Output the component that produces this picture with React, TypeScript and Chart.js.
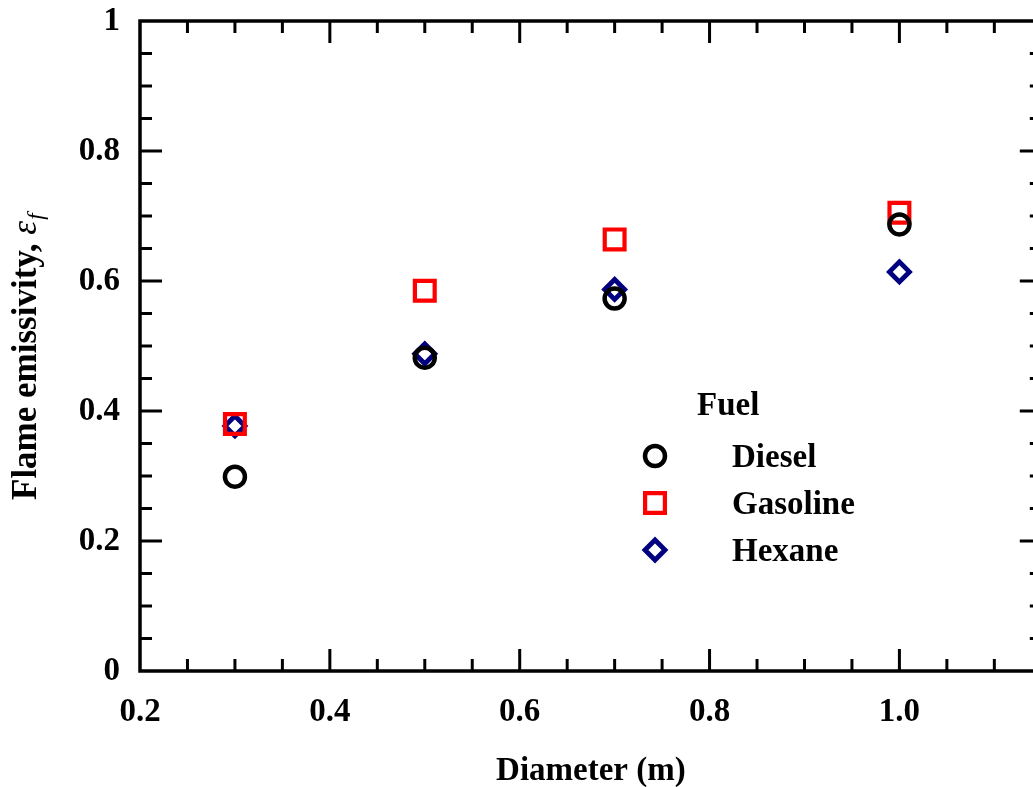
import React, { useEffect, useRef } from 'react';
import { Chart, registerables } from 'chart.js';

Chart.register(...registerables);

// ---- data ----
const diameters = [0.3, 0.5, 0.7, 1.0];
const diesel = [0.299, 0.482, 0.573, 0.687];
const gasoline = [0.38, 0.585, 0.664, 0.705];
const hexane = [0.377, 0.488, 0.587, 0.614];
const seriesNames = ['Diesel', 'Gasoline', 'Hexane'];
const legendTitle = 'Fuel';

const xMajorTicks = [0.2, 0.4, 0.6, 0.8, 1.0];
const xTickLabels = ['0.2', '0.4', '0.6', '0.8', '1.0'];
const yMajorTicks = [0, 0.2, 0.4, 0.6, 0.8, 1];
const yTickLabels = ['0', '0.2', '0.4', '0.6', '0.8', '1'];
const xTitle = 'Diameter (m)';
const yTitleMain = 'Flame emissivity, ';
const yTitleSymbol = 'ε';
const yTitleSub = 'f';

const X_MIN = 0.2;
const X_MAX = 1.15;
const Y_MIN = 0;
const Y_MAX = 1;
const MINOR_STEP = 0.05;
const MAJOR_STEP = 0.2;

const FONT = '"Liberation Serif", "Times New Roman", Times, serif';
const colors = ['#000000', '#ff0000', '#000080'];
const styles = ['circle', 'rect', 'rectRot'];
const radii = [10, 14, 10];
const borderWidths = [4.5, 4.2, 4.8];

function drawMarker(ctx: CanvasRenderingContext2D, style: string, x: number, y: number, r: number, color: string, bw: number) {
  ctx.save();
  ctx.strokeStyle = color;
  ctx.lineWidth = bw;
  ctx.beginPath();
  if (style === 'circle') {
    ctx.arc(x, y, r, 0, Math.PI * 2);
  } else if (style === 'rect') {
    const s = Math.SQRT1_2 * r;
    ctx.rect(x - s, y - s, 2 * s, 2 * s);
  } else {
    ctx.moveTo(x - r, y);
    ctx.lineTo(x, y - r);
    ctx.lineTo(x + r, y);
    ctx.lineTo(x, y + r);
    ctx.closePath();
  }
  ctx.stroke();
  ctx.restore();
}

const framePlugin = {
  id: 'frameTicks',
  beforeDatasetsDraw(chart: any) {
    const { ctx, chartArea: a, scales } = chart;
    const xs = scales.x;
    const ys = scales.y;
    ctx.save();
    ctx.strokeStyle = '#000';
    ctx.lineWidth = 3;
    const line = (x1: number, y1: number, x2: number, y2: number) => {
      ctx.beginPath();
      ctx.moveTo(x1, y1);
      ctx.lineTo(x2, y2);
      ctx.stroke();
    };
    const isMajor = (v: number) => Math.abs(v / MAJOR_STEP - Math.round(v / MAJOR_STEP)) < 1e-6;
    const nx = Math.round((X_MAX - X_MIN) / MINOR_STEP);
    for (let i = 1; i < nx; i++) {
      const v = X_MIN + i * MINOR_STEP;
      const px = xs.getPixelForValue(v);
      const len = isMajor(v) ? 22 : 12;
      line(px, a.bottom, px, a.bottom - len);
      line(px, a.top, px, a.top + len);
    }
    const ny = Math.round((Y_MAX - Y_MIN) / MINOR_STEP);
    for (let i = 1; i < ny; i++) {
      const v = Y_MIN + i * MINOR_STEP;
      const py = ys.getPixelForValue(v);
      const len = isMajor(v) ? 22 : 12;
      line(a.left, py, a.left + len, py);
      line(a.right, py, a.right - len, py);
    }
    ctx.lineWidth = 3.5;
    ctx.strokeRect(a.left, a.top, a.right - a.left, a.bottom - a.top);
    ctx.restore();
  },
  afterDatasetsDraw(chart: any) {
    const { ctx, chartArea: a } = chart;
    ctx.save();
    ctx.fillStyle = '#000';
    // x title
    ctx.font = `bold 33px ${FONT}`;
    ctx.textAlign = 'center';
    ctx.textBaseline = 'alphabetic';
    ctx.fillText(xTitle, (a.left + a.right) / 2, a.bottom + 109);

    // y title (rotated)
    ctx.save();
    ctx.translate(36, 500);
    ctx.rotate(-Math.PI / 2);
    ctx.textAlign = 'left';
    ctx.font = `bold 35px ${FONT}`;
    ctx.fillText(yTitleMain, 0, 0);
    let w = ctx.measureText(yTitleMain).width;
    ctx.font = `italic 35px ${FONT}`;
    ctx.fillText(yTitleSymbol, w, 0);
    w += ctx.measureText(yTitleSymbol).width;
    ctx.font = `italic 23px ${FONT}`;
    ctx.fillText(yTitleSub, w + 1, 7);
    ctx.restore();

    // legend
    const lx = a.left + 515;
    ctx.font = `bold 33px ${FONT}`;
    ctx.textAlign = 'left';
    ctx.fillText(legendTitle, a.left + 557, a.top + 394);
    const rowsY = [435, 482, 529];
    for (let i = 0; i < seriesNames.length; i++) {
      const yy = a.top + rowsY[i];
      drawMarker(ctx, styles[i], lx, yy, radii[i], colors[i], borderWidths[i]);
      ctx.fillStyle = '#000';
      ctx.font = `bold 33px ${FONT}`;
      ctx.fillText(seriesNames[i], a.left + 592, yy + 11);
    }
    ctx.restore();
  },
};

export default function App() {
  const ref = useRef<HTMLCanvasElement>(null);
  useEffect(() => {
    document.body.style.margin = '0';
    const canvas = ref.current!;
    const seriesValues = [diesel, gasoline, hexane];
    const chart = new Chart(canvas, {
      type: 'scatter',
      data: {
        datasets: seriesNames.map((name, i) => ({
          label: name,
          data: diameters.map((d, j) => ({ x: d, y: seriesValues[i][j] })),
          pointStyle: styles[i] as any,
          pointRadius: radii[i],
          pointHoverRadius: radii[i],
          pointBorderWidth: borderWidths[i],
          pointBorderColor: colors[i],
          pointBackgroundColor: 'rgba(0,0,0,0)',
          borderColor: colors[i],
          backgroundColor: 'rgba(0,0,0,0)',
          showLine: false,
        })),
      },
      options: {
        animation: false,
        responsive: false,
        devicePixelRatio: 1,
        layout: { padding: { top: 21, right: 18, left: 0, bottom: 0 } },
        plugins: {
          legend: { display: false },
          tooltip: { enabled: false },
        },
        events: [],
        scales: {
          x: {
            type: 'linear',
            min: X_MIN,
            max: X_MAX,
            grid: { display: false, drawTicks: false },
            border: { display: false },
            afterBuildTicks: (s: any) => {
              s.ticks = xMajorTicks.map((v) => ({ value: v }));
            },
            afterFit: (s: any) => {
              s.height = 116;
              s.paddingLeft = 0;
              s.paddingRight = 0;
            },
            ticks: {
              padding: 22,
              maxRotation: 0,
              color: '#000',
              font: { family: FONT, size: 33, weight: 'bold' },
              callback: (v: any) => {
                const idx = xMajorTicks.findIndex((t) => Math.abs(t - Number(v)) < 1e-9);
                return idx >= 0 ? xTickLabels[idx] : '';
              },
            },
          },
          y: {
            type: 'linear',
            min: Y_MIN,
            max: Y_MAX,
            grid: { display: false, drawTicks: false },
            border: { display: false },
            afterBuildTicks: (s: any) => {
              s.ticks = yMajorTicks.map((v) => ({ value: v }));
            },
            afterFit: (s: any) => {
              s.width = 140;
              s.paddingTop = 0;
              s.paddingBottom = 0;
            },
            ticks: {
              padding: 20,
              color: '#000',
              font: { family: FONT, size: 33, weight: 'bold' },
              callback: (v: any) => {
                const idx = yMajorTicks.findIndex((t) => Math.abs(t - Number(v)) < 1e-9);
                return idx >= 0 ? yTickLabels[idx] : '';
              },
            },
          },
        },
      },
      plugins: [framePlugin],
    } as any);
    return () => chart.destroy();
  }, []);

  return (
    <div style={{ position: 'absolute', left: 0, top: 0, width: 1033, height: 787, overflow: 'hidden', background: '#fff' }}>
      <canvas ref={ref} width={1060} height={787} style={{ display: 'block', width: 1060, height: 787 }} />
    </div>
  );
}
